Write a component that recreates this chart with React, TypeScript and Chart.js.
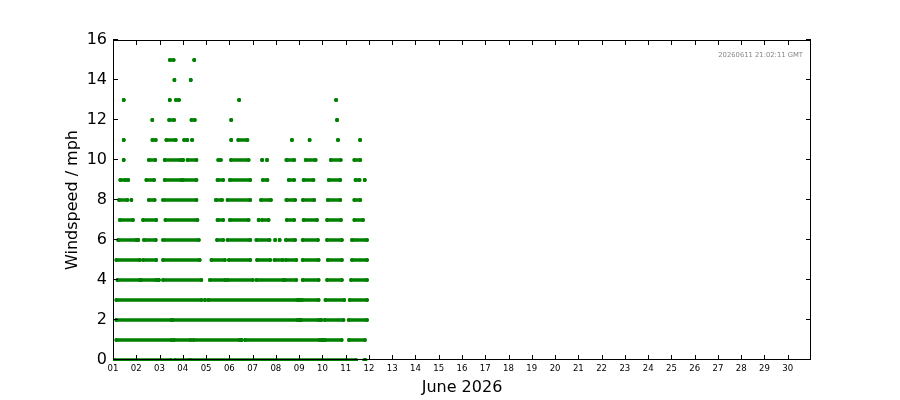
import React, { useEffect, useRef } from 'react';
import { Chart, registerables } from 'chart.js';

Chart.register(...registerables);

// ---- Data (x = day of June 2026, fractional; runs of readings at each integer windspeed) ----
const DAY_TICK_LABELS = ['01', '02', '03', '04', '05', '06', '07', '08', '09', '10', '11', '12', '13', '14', '15',
  '16', '17', '18', '19', '20', '21', '22', '23', '24', '25', '26', '27', '28', '29', '30'];
const X_MIN = 1;
const X_MAX = 31;
const Y_MIN = 0;
const Y_MAX = 16;
const Y_STEP = 2;
const X_TITLE = 'June 2026';
const Y_TITLE = 'Windspeed / mph';
const STAMP = '20260611 21:02:11 GMT';

const speed0 = [[1.05, 3.5], [3.65, 4.28], [4.33, 11.45], [11.8, 11.85]];
const speed1 = [[1.14, 3.51], [3.62, 4.34], [4.46, 6.45], [6.52, 6.52], [6.67, 9.89], [10.0, 10.0], [10.11, 10.83], [11.14, 11.83]];
const speed2 = [[1.14, 3.51], [3.58, 8.91], [9.01, 9.01], [9.09, 9.84], [9.95, 9.95], [10.1, 10.91], [11.13, 11.92]];
const speed3 = [[1.14, 4.8], [4.95, 4.95], [5.09, 8.91], [9.01, 9.01], [9.12, 9.84], [10.13, 10.94], [11.17, 11.92]];
const speed4 = [[1.19, 2.15], [2.22, 2.86], [2.97, 2.97], [3.15, 4.8], [5.16, 5.81], [5.92, 7.01], [7.16, 8.33], [8.4, 8.88], [9.15, 9.84], [10.2, 10.84], [11.23, 11.92]];
const speed5 = [[1.14, 2.15], [2.29, 2.86], [3.15, 4.73], [5.23, 5.81], [5.98, 6.9], [7.19, 7.76], [7.94, 8.3], [8.43, 8.88], [9.15, 9.84], [10.23, 10.84], [11.27, 11.92]];
const speed6 = [[1.22, 2.0], [2.08, 2.08], [2.33, 2.84], [3.15, 4.69], [5.47, 5.74], [5.92, 6.9], [7.16, 7.73], [7.97, 7.97], [8.16, 8.16], [8.43, 8.83], [9.15, 9.81], [10.2, 10.84], [11.27, 11.92]];
const speed7 = [[1.29, 1.86], [2.29, 2.86], [3.25, 4.63], [5.49, 5.74], [6.02, 6.83], [7.26, 7.26], [7.4, 7.69], [8.47, 8.79], [9.19, 9.77], [10.2, 10.8], [11.37, 11.75]];
const speed8 = [[1.26, 1.62], [1.79, 1.79], [2.54, 2.79], [3.15, 4.59], [5.42, 5.69], [5.92, 6.9], [7.36, 7.79], [8.45, 8.83], [9.16, 9.65], [10.23, 10.77], [11.37, 11.63]];
const speed9 = [[1.31, 1.53], [1.65, 1.65], [2.43, 2.77], [3.22, 3.94], [4.01, 4.59], [5.49, 5.74], [6.02, 6.9], [7.44, 7.64], [8.55, 8.79], [9.19, 9.62], [10.27, 10.77], [11.42, 11.6], [11.82, 11.82]];
const speed10 = [[1.46, 1.46], [2.54, 2.82], [3.22, 3.91], [4.01, 4.01], [4.2, 4.59], [5.52, 5.64], [6.07, 6.83], [7.41, 7.41], [7.62, 7.62], [8.45, 8.79], [9.28, 9.71], [10.36, 10.79], [11.37, 11.63]];
const speed11 = [[1.46, 1.46], [2.69, 2.84], [3.29, 3.7], [4.06, 4.06], [4.19, 4.19], [4.4, 4.4], [6.08, 6.08], [6.38, 6.78], [8.69, 8.69], [9.45, 9.45], [10.67, 10.67], [11.62, 11.62]];
const speed12 = [[2.69, 2.69], [3.41, 3.63], [4.37, 4.52], [6.08, 6.08], [10.63, 10.63]];
const speed13 = [[1.46, 1.46], [3.44, 3.44], [3.7, 3.84], [6.42, 6.42], [10.59, 10.59]];
const speed14 = [[3.64, 3.64], [4.34, 4.34]];
const speed15 = [[3.44, 3.61], [4.49, 4.49]];

const SPEED_RUNS = [speed0, speed1, speed2, speed3, speed4, speed5, speed6, speed7, speed8,
  speed9, speed10, speed11, speed12, speed13, speed14, speed15];

const GREEN = '#008000';
const FONT = '"DejaVu Sans", sans-serif';
const TICK_FONT = '"DejaVu Sans Condensed", "Liberation Sans", sans-serif';

function runsToPoints(runs: number[][], level: number) {
  const pts: { x: number; y: number | null }[] = [];
  runs.forEach(([a, b]) => {
    pts.push({ x: a, y: level });
    pts.push({ x: b, y: level });
    pts.push({ x: b, y: null });
  });
  return pts;
}

const framePlugin = {
  id: 'mplFrame',
  afterDatasetsDraw(chart: any) {
    const { ctx, chartArea: a, scales } = chart;
    const xs = scales.x;
    const ys = scales.y;
    ctx.save();
    ctx.strokeStyle = '#000';
    ctx.lineWidth = 1;
    ctx.beginPath();
    xs.ticks.forEach((t: any) => {
      const px = Math.round(xs.getPixelForValue(t.value)) + 0.5;
      ctx.moveTo(px, a.bottom);
      ctx.lineTo(px, a.bottom - 5);
      ctx.moveTo(px, a.top);
      ctx.lineTo(px, a.top + 5);
    });
    ys.ticks.forEach((t: any) => {
      const py = Math.round(ys.getPixelForValue(t.value)) - 0.5;
      ctx.moveTo(a.left, py);
      ctx.lineTo(a.left + 5, py);
      ctx.moveTo(a.right, py);
      ctx.lineTo(a.right - 5, py);
    });
    ctx.stroke();
    ctx.strokeRect(a.left + 0.5, a.top + 0.5, a.right - a.left - 1, a.bottom - a.top - 1);
    ctx.fillStyle = '#888';
    ctx.font = '6.8px ' + FONT;
    ctx.textAlign = 'right';
    ctx.textBaseline = 'middle';
    ctx.fillText(STAMP, a.right - 8, a.top + 15);
    ctx.restore();
  },
};

export default function App() {
  const ref = useRef<HTMLCanvasElement | null>(null);

  useEffect(() => {
    if (!ref.current) return;
    const datasets = SPEED_RUNS.map((runs, level) => ({
      label: 'speed ' + level,
      data: runsToPoints(runs, level),
      showLine: true,
      spanGaps: false,
      borderColor: GREEN,
      backgroundColor: GREEN,
      borderWidth: 3.5,
      borderCapStyle: 'round' as const,
      pointRadius: 1.9,
      pointBorderWidth: 0,
      pointHoverRadius: 1.9,
      clip: { left: 0, top: 0, right: 0, bottom: 1 },
    }));
    const chart = new Chart(ref.current, {
      type: 'scatter',
      data: { datasets },
      options: {
        animation: false,
        responsive: false,
        events: [],
        layout: { padding: { left: 0, right: 89, top: 40, bottom: 0 } },
        plugins: { legend: { display: false }, tooltip: { enabled: false } },
        scales: {
          x: {
            type: 'linear',
            min: X_MIN,
            max: X_MAX,
            grid: { display: false, drawTicks: false },
            border: { display: false },
            afterBuildTicks: (scale: any) => {
              scale.ticks = DAY_TICK_LABELS.map((_, i) => ({ value: X_MIN + i }));
            },
            afterFit: (scale: any) => {
              scale.height = 40;
            },
            ticks: {
              autoSkip: false,
              maxRotation: 0,
              padding: 3,
              color: '#000',
              font: { family: TICK_FONT, size: 9.5 },
              callback: (_v: any, i: number) => DAY_TICK_LABELS[i],
            },
            title: {
              display: true,
              text: X_TITLE,
              color: '#000',
              font: { family: FONT, size: 16 },
              padding: { top: 0, bottom: 3 },
            },
          },
          y: {
            type: 'linear',
            min: Y_MIN,
            max: Y_MAX,
            grid: { display: false, drawTicks: false },
            border: { display: false },
            afterFit: (scale: any) => {
              scale.width = 113;
            },
            ticks: {
              stepSize: Y_STEP,
              padding: 6,
              color: '#000',
              font: { family: FONT, size: 16 },
            },
            title: {
              display: true,
              text: Y_TITLE,
              color: '#000',
              font: { family: FONT, size: 16 },
              padding: { top: 63, bottom: 0 },
            },
          },
        },
      },
      plugins: [framePlugin],
    });
    return () => chart.destroy();
  }, []);

  return (
    <div style={{ position: 'fixed', left: 0, top: 0, width: 900, height: 400, background: '#fff' }}>
      <canvas ref={ref} width={900} height={400} style={{ display: 'block', width: 900, height: 400 }} />
    </div>
  );
}
